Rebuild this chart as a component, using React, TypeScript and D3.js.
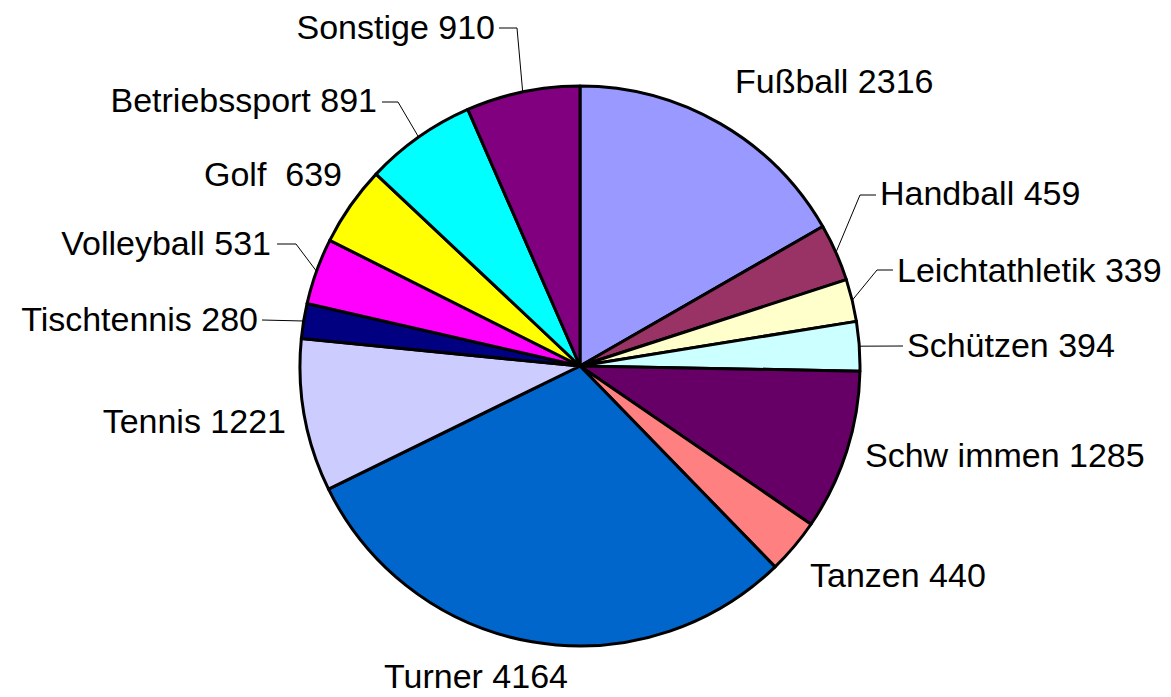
import React, { useEffect, useRef } from "react";
import * as d3 from "d3";

// Sport categories, clockwise from 12 o'clock
const categories = [
  "Fußball", "Handball", "Leichtathletik", "Schützen", "Schw immen", "Tanzen",
  "Turner", "Tennis", "Tischtennis", "Volleyball", "Golf ", "Betriebssport", "Sonstige",
];
const members = [2316, 459, 339, 394, 1285, 440, 4164, 1221, 280, 531, 639, 891, 910];
const colors = [
  "#9999FF", "#993366", "#FFFFCC", "#CCFFFF", "#660066", "#FF8080",
  "#0066CC", "#CCCCFF", "#000080", "#FF00FF", "#FFFF00", "#00FFFF", "#800080",
];

// label layout: text anchor point and optional leader elbow
const labelLayout: { x: number; y: number; anchor: string; line?: [number, number][] }[] = [
  { x: 735, y: 93, anchor: "start" },
  { x: 880, y: 205, anchor: "start", line: [[876, 195], [860, 195]] },
  { x: 897, y: 282, anchor: "start", line: [[893, 270], [877, 270]] },
  { x: 907, y: 357, anchor: "start", line: [[903, 346]] },
  { x: 865, y: 467, anchor: "start" },
  { x: 810, y: 587, anchor: "start" },
  { x: 476, y: 688, anchor: "middle" },
  { x: 286, y: 433, anchor: "end" },
  { x: 258, y: 331, anchor: "end", line: [[262, 320]] },
  { x: 271, y: 255, anchor: "end", line: [[277, 244], [296, 244]] },
  { x: 342, y: 186, anchor: "end" },
  { x: 377, y: 112, anchor: "end", line: [[382, 102], [398, 102]] },
  { x: 495, y: 39, anchor: "end", line: [[499, 28], [517, 28]] },
];

const W = 1171;
const H = 697;
const cx = 580;
const cy = 366;
const R = 280;

const PieChart = () => {
  const svgRef = useRef<SVGSVGElement>(null);

  useEffect(() => {
    const data = categories.map((name, i) => ({ name, value: members[i], color: colors[i], layout: labelLayout[i] }));

    const svg = d3.select(svgRef.current);
    svg.selectAll("*").remove();

    const pie = d3.pie<any>().sort(null).value((d) => d.value);
    const arc = d3.arc<any>().innerRadius(0).outerRadius(R);
    const arcs = pie(data);

    const g = svg.append("g").attr("transform", `translate(${cx},${cy})`);

    g.selectAll("path")
      .data(arcs)
      .join("path")
      .attr("d", arc)
      .attr("fill", (d) => d.data.color)
      .attr("stroke", "#000")
      .attr("stroke-width", 3)
      .attr("stroke-linejoin", "round");

    // leader lines: from label elbow to slice edge at mid angle
    const lines = svg.append("g");
    arcs.forEach((d) => {
      const lay = d.data.layout;
      if (!lay.line) return;
      const mid = (d.startAngle + d.endAngle) / 2;
      const edge: [number, number] = [cx + R * Math.sin(mid), cy - R * Math.cos(mid)];
      lines.append("path")
        .attr("d", d3.line()([...lay.line, edge]))
        .attr("fill", "none")
        .attr("stroke", "#000")
        .attr("stroke-width", 1);
    });

    svg.append("g")
      .selectAll("text")
      .data(arcs)
      .join("text")
      .attr("x", (d) => d.data.layout.x)
      .attr("y", (d) => d.data.layout.y)
      .attr("text-anchor", (d) => d.data.layout.anchor)
      .attr("font-family", "'Liberation Sans', Arial, sans-serif")
      .attr("font-size", 34)
      .style("white-space", "pre")
      .attr("fill", "#000")
      .text((d) => `${d.data.name} ${d.data.value}`);
  }, []);

  return (
    <svg
      ref={svgRef}
      width={W}
      height={H}
      style={{ position: "absolute", left: 0, top: 0, background: "#fff" }}
    ></svg>
  );
};

export default function App() {
  return <PieChart />;
}
